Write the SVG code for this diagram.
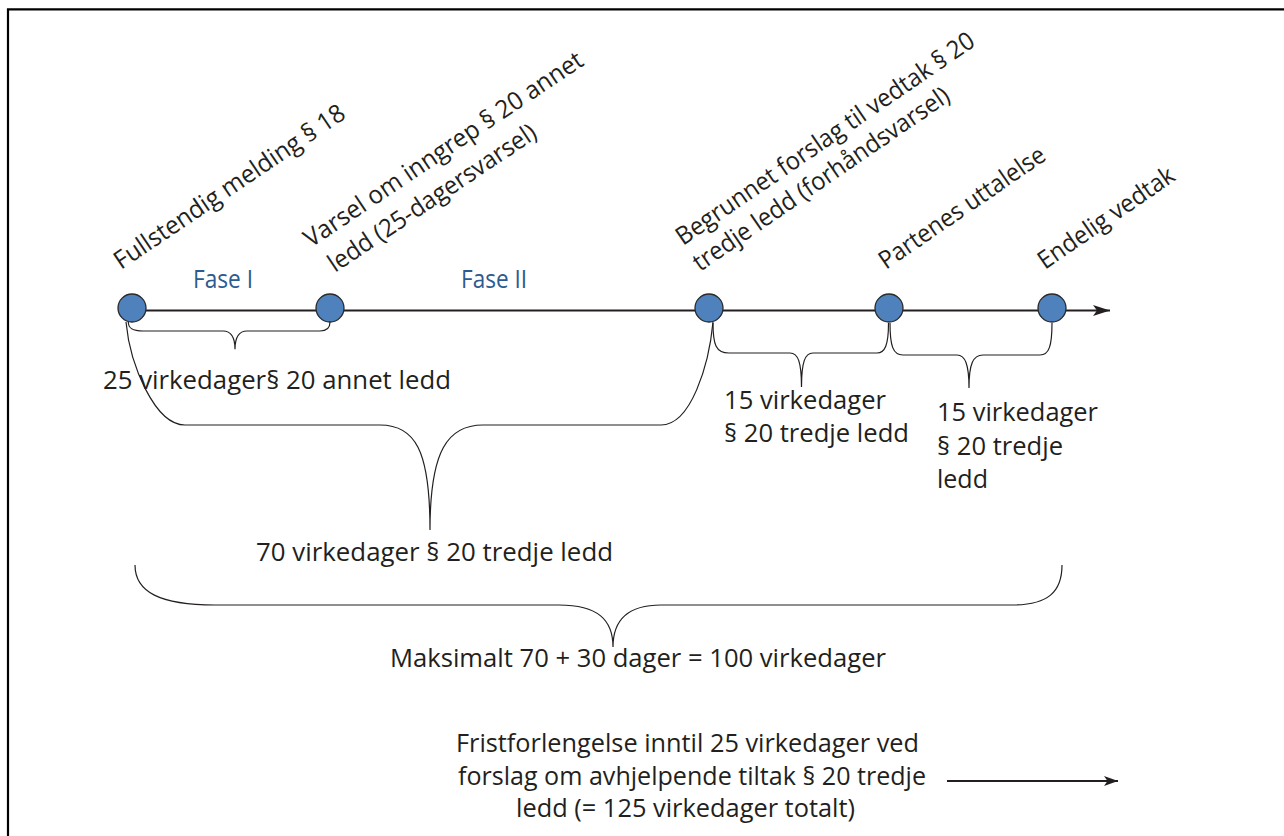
<svg xmlns="http://www.w3.org/2000/svg" width="1284" height="836" viewBox="0 0 1284 836">
<defs>
<style>
.t{font-family:"Open Sans","Liberation Sans",sans-serif;font-size:25px;fill:#231f20}
.r{font-family:"Open Sans","Liberation Sans",sans-serif;font-size:25px;fill:#231f20}
.f{font-family:"Open Sans","Liberation Sans",sans-serif;font-size:25px;fill:#2b5b90}
.n{fill:#4f81bd;stroke:#2a2a2a;stroke-width:1.3}
.b{fill:none;stroke:#231f20;stroke-width:1.2}
.ax{fill:none;stroke:#231f20;stroke-width:1.8}
</style>
<marker id="ah" viewBox="0 0 17 11" refX="17" refY="5.5" markerWidth="17" markerHeight="11" markerUnits="userSpaceOnUse" orient="auto">
<path d="M0,0 L17,5.5 L0,11 L4,5.5 Z" fill="#231f20"/>
</marker>
<marker id="ah2" viewBox="0 0 14 10" refX="14" refY="5" markerWidth="14" markerHeight="10" markerUnits="userSpaceOnUse" orient="auto">
<path d="M0,0 L14,5 L0,10 L3.5,5 Z" fill="#231f20"/>
</marker>
</defs>
<rect width="1284" height="836" fill="#fff"/>
<path d="M8,836 V9.3 H1284" fill="none" stroke="#000" stroke-width="2.2"/>

<g id="connectors">
<path class="ax" d="M132,310.5 H1110" marker-end="url(#ah)"/>
<path class="b" d="M128.3,322 C128.3,328 132,331 143,331 L223,331 C231,331 235,337 235,349.3 C235,337 239,331 247,331 L320,331 C327,331 330,328 330,322"/>
<path class="b" d="M126,322 C130,365 155,425 185,425 L380,425 C415,425 430,450 430,530 C430,450 448,425 483,425 L661,425 C691,425 709,365 713,322"/>
<path class="b" d="M713,323 C713,345 716,353 729,353 L790,353 C798,353 801.5,362 801.5,387 C801.5,362 805,353 813,353 L877,353 C885,353 888.5,345 888.5,323"/>
<path class="b" d="M890,323 C890,346 893,355 903,355 L957,355 C965,355 969,364 969,388 C969,364 973,355 983,355 L1040,355 C1049,355 1052,346 1052,323"/>
<path class="b" d="M135,565 C135,592 160,605 215,605 L559,605 C598,605 613,620 613,647 C613,620 628,605 661,605 L1012,605 C1048,605 1062,592 1062,565"/>
<path class="ax" d="M947,781 H1118" marker-end="url(#ah2)"/>
</g>

<g id="node-fullstendig">
<circle class="n" cx="132" cy="308" r="14"/>
<text class="r" transform="translate(121,270) rotate(-34)" textLength="273" lengthAdjust="spacingAndGlyphs">Fullstendig melding § 18</text>
</g>
<g id="node-varsel">
<circle class="n" cx="330" cy="308" r="14"/>
<text class="r" transform="translate(311,248) rotate(-33.8)" textLength="330" lengthAdjust="spacingAndGlyphs">Varsel om inngrep § 20 annet</text>
<text class="r" transform="translate(335,273) rotate(-33.8)" textLength="245" lengthAdjust="spacingAndGlyphs">ledd (25-dagersvarsel)</text>
</g>
<g id="node-begrunnet">
<circle class="n" cx="709" cy="308" r="14"/>
<text class="r" transform="translate(683,246) rotate(-34.4)" textLength="356" lengthAdjust="spacingAndGlyphs">Begrunnet forslag til vedtak § 20</text>
<text class="r" transform="translate(700,272) rotate(-34.4)" textLength="305" lengthAdjust="spacingAndGlyphs">tredje ledd (forhåndsvarsel)</text>
</g>
<g id="node-partenes">
<circle class="n" cx="889" cy="308" r="14"/>
<text class="r" transform="translate(886,270) rotate(-34.5)" textLength="196" lengthAdjust="spacingAndGlyphs">Partenes uttalelse</text>
</g>
<g id="node-endelig">
<circle class="n" cx="1052" cy="308" r="14"/>
<text class="r" transform="translate(1045,270) rotate(-34.5)" textLength="160" lengthAdjust="spacingAndGlyphs">Endelig vedtak</text>
</g>

<g id="labels">
<text class="f" x="193" y="288" textLength="60" lengthAdjust="spacingAndGlyphs">Fase I</text>
<text class="f" x="461" y="288" textLength="66" lengthAdjust="spacingAndGlyphs">Fase II</text>
<text class="t" x="103" y="389" textLength="348" lengthAdjust="spacingAndGlyphs">25 virkedager§ 20 annet ledd</text>
<text class="t" x="724" y="409" textLength="162" lengthAdjust="spacingAndGlyphs">15 virkedager</text>
<text class="t" x="724" y="442" textLength="185" lengthAdjust="spacingAndGlyphs">§ 20 tredje ledd</text>
<text class="t" x="937" y="421" textLength="161" lengthAdjust="spacingAndGlyphs">15 virkedager</text>
<text class="t" x="937" y="455" textLength="126" lengthAdjust="spacingAndGlyphs">§ 20 tredje</text>
<text class="t" x="937" y="488" textLength="51" lengthAdjust="spacingAndGlyphs">ledd</text>
<text class="t" x="256" y="561" textLength="357" lengthAdjust="spacingAndGlyphs">70 virkedager  § 20 tredje ledd</text>
<text class="t" x="390" y="667" textLength="496" lengthAdjust="spacingAndGlyphs">Maksimalt 70 + 30 dager = 100 virkedager</text>
<text class="t" x="919" y="752" text-anchor="end" textLength="463" lengthAdjust="spacingAndGlyphs">Fristforlengelse inntil 25 virkedager ved</text>
<text class="t" x="926" y="785" text-anchor="end" textLength="468" lengthAdjust="spacingAndGlyphs">forslag om avhjelpende tiltak § 20 tredje</text>
<text class="t" x="855" y="817" text-anchor="end" textLength="339" lengthAdjust="spacingAndGlyphs">ledd (= 125 virkedager totalt)</text>
</g>
</svg>
